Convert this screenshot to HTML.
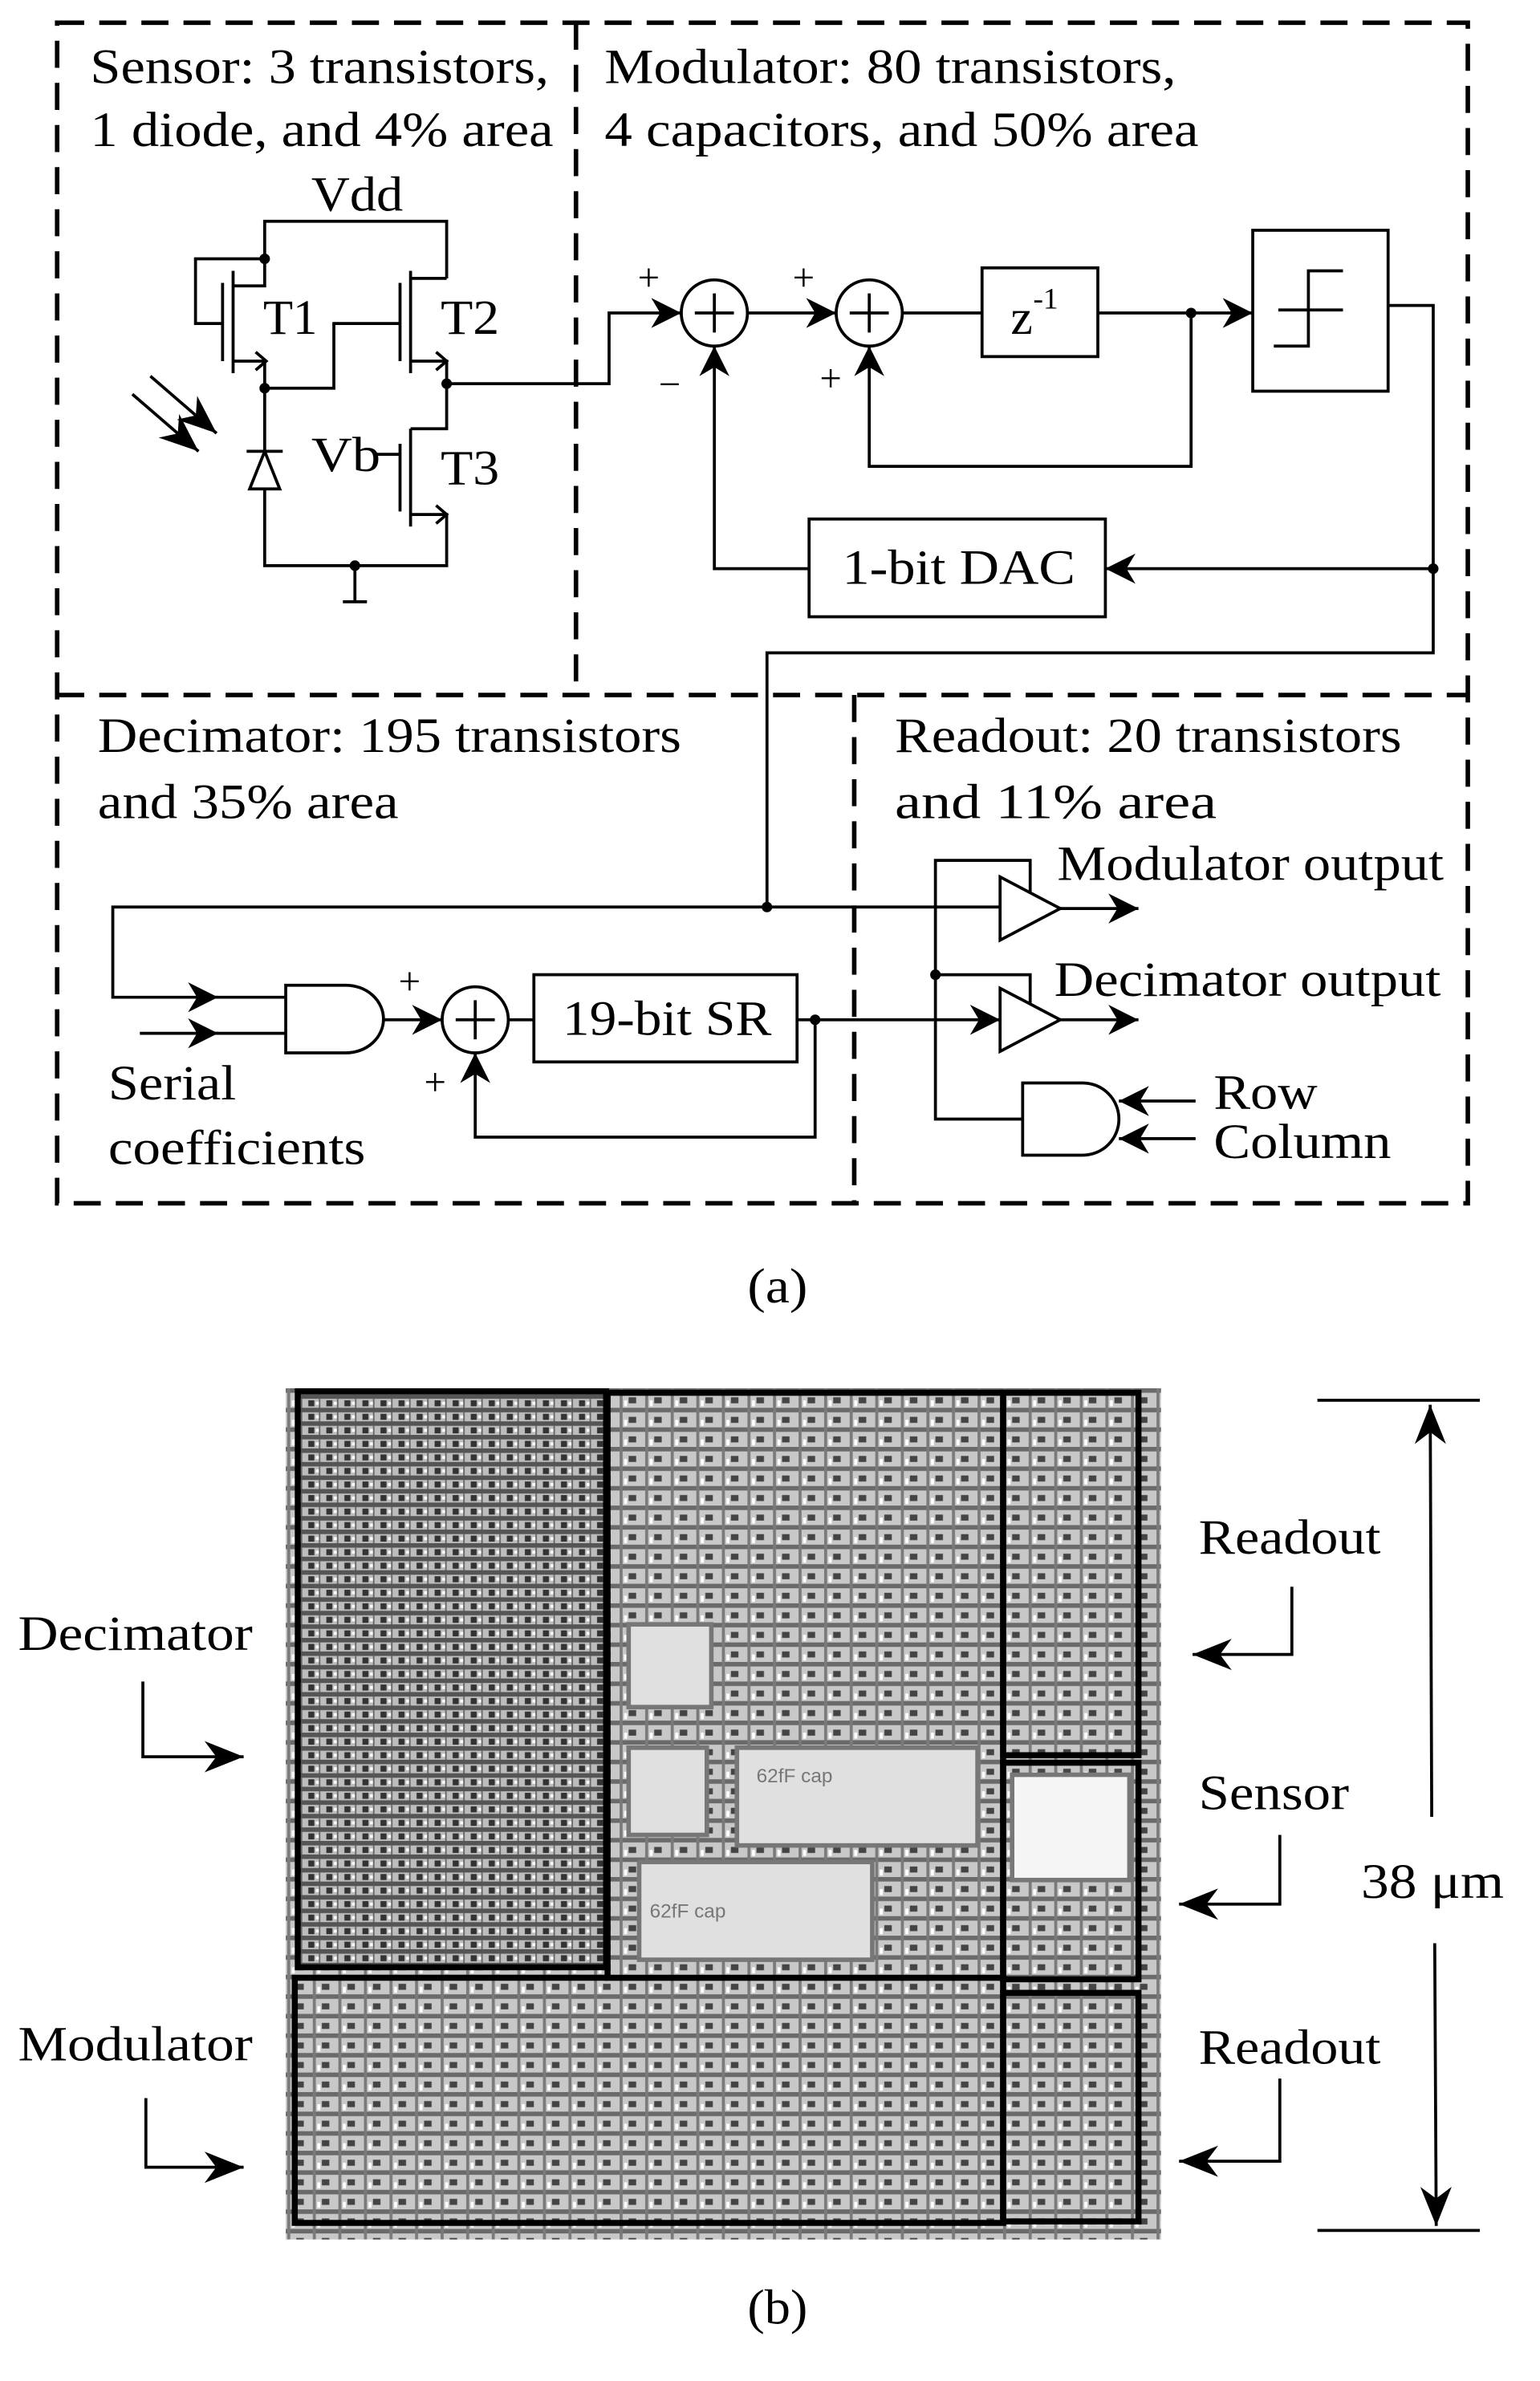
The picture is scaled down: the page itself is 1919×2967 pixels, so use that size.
<!DOCTYPE html>
<html><head><meta charset="utf-8"><style>
html,body{margin:0;padding:0;background:#fff}
svg{display:block}
text{font-family:"Liberation Serif",serif;fill:#000}
</style></head><body>
<svg width="1919" height="2967" viewBox="0 0 1024 1583" xmlns="http://www.w3.org/2000/svg">
<defs>
<marker id="ar2" viewBox="0 0 10 10" refX="10" refY="5" markerWidth="20" markerHeight="20" orient="auto" markerUnits="userSpaceOnUse">
<path d="M0,0 L10,5 L0,10 L3,5 z" fill="#000"/></marker>
<marker id="ar3" viewBox="0 0 10 10" refX="10" refY="5" markerWidth="26" markerHeight="26" orient="auto" markerUnits="userSpaceOnUse">
<path d="M0,1 L10,5 L0,9 L3,5 z" fill="#000"/></marker>
<pattern id="grid" width="12" height="9" patternUnits="userSpaceOnUse">
<rect width="12" height="9" fill="#bdbdbd"/>
<rect y="0" width="12" height="3" fill="#555"/>
<rect x="1" y="4" width="4" height="4" fill="#333"/>
<rect x="8" y="3" width="1" height="6" fill="#666"/>
<rect x="6" y="5" width="2" height="2" fill="#fff"/>
</pattern>
<pattern id="grid2" width="17" height="13" patternUnits="userSpaceOnUse">
<rect width="17" height="13" fill="#c8c8c8"/>
<rect y="0" width="17" height="3" fill="#6a6a6a"/>
<rect x="4" y="0" width="2" height="13" fill="#7a7a7a"/>
<rect x="10" y="6" width="5" height="4" fill="#444"/>
<rect x="7" y="8" width="2" height="4" fill="#fff"/>
</pattern>
</defs>

<g stroke="#000" stroke-width="3" fill="none" stroke-dasharray="18,10">
<rect x="38" y="15" width="938" height="785"/>
<line x1="383" y1="15" x2="383" y2="462"/>
<line x1="38" y1="462" x2="976" y2="462"/>
<line x1="568" y1="462" x2="568" y2="800"/>
</g>

<g font-size="33">
<text x="60" y="55" textLength="305" lengthAdjust="spacingAndGlyphs">Sensor: 3 transistors,</text>
<text x="60" y="97" textLength="308" lengthAdjust="spacingAndGlyphs">1 diode, and 4% area</text>
<text x="402" y="55" textLength="380" lengthAdjust="spacingAndGlyphs">Modulator: 80 transistors,</text>
<text x="402" y="97" textLength="395" lengthAdjust="spacingAndGlyphs">4 capacitors, and 50% area</text>
<text x="65" y="500" textLength="388" lengthAdjust="spacingAndGlyphs">Decimator: 195 transistors</text>
<text x="65" y="544" textLength="200" lengthAdjust="spacingAndGlyphs">and 35% area</text>
<text x="595" y="500" textLength="337" lengthAdjust="spacingAndGlyphs">Readout: 20 transistors</text>
<text x="595" y="544" textLength="214" lengthAdjust="spacingAndGlyphs">and 11% area</text>
<text x="703" y="585" textLength="257" lengthAdjust="spacingAndGlyphs">Modulator output</text>
<text x="701" y="662" textLength="257" lengthAdjust="spacingAndGlyphs">Decimator output</text>
<text x="807" y="737" textLength="69" lengthAdjust="spacingAndGlyphs">Row</text>
<text x="807" y="770" textLength="118" lengthAdjust="spacingAndGlyphs">Column</text>
<text x="72" y="731" textLength="85" lengthAdjust="spacingAndGlyphs">Serial</text>
<text x="72" y="774" textLength="171" lengthAdjust="spacingAndGlyphs">coefficients</text>
<text x="207" y="140" textLength="61" lengthAdjust="spacingAndGlyphs">Vdd</text>
<text x="175" y="222" textLength="36" lengthAdjust="spacingAndGlyphs">T1</text>
<text x="293" y="222" textLength="39" lengthAdjust="spacingAndGlyphs">T2</text>
<text x="207" y="313" textLength="46" lengthAdjust="spacingAndGlyphs">Vb</text>
<text x="293" y="322" textLength="39" lengthAdjust="spacingAndGlyphs">T3</text>
<text x="560" y="388" textLength="155" lengthAdjust="spacingAndGlyphs">1-bit DAC</text>
<text x="374" y="688" textLength="139" lengthAdjust="spacingAndGlyphs">19-bit SR</text>
<text x="672" y="222">z</text><text x="687" y="205" font-size="20">-1</text>
<text x="497" y="866" textLength="40" lengthAdjust="spacingAndGlyphs">(a)</text>
<text x="497" y="1545" textLength="40" lengthAdjust="spacingAndGlyphs">(b)</text>
</g>
<g font-size="26">
<text x="424" y="193">+</text><text x="527" y="193">+</text>
<text x="438" y="264">−</text><text x="545" y="260">+</text>
<text x="265" y="661">+</text><text x="282" y="728">+</text>
</g>

<g stroke="#000" stroke-width="2" fill="none">
<polyline points="176,172 176,147 297,147 297,185"/>
<polyline points="176,172 130,172 130,215 148,215"/>
<line x1="148" y1="188" x2="148" y2="240"/>
<line x1="155" y1="180" x2="155" y2="248"/>
<polyline points="155,190 176,190 176,172"/>
<polyline points="155,240 176,240 176,258"/>
<polyline points="170,234 177,240 170,246"/>
<polyline points="176,258 222,258 222,215 266,215"/>
<line x1="266" y1="188" x2="266" y2="240"/>
<line x1="273" y1="180" x2="273" y2="248"/>
<polyline points="273,185 297,185"/>
<polyline points="273,240 297,240 297,255"/>
<polyline points="290,234 297,240 290,246"/>
<polyline points="297,255 297,285 273,285"/>
<line x1="266" y1="295" x2="266" y2="340"/>
<line x1="273" y1="285" x2="273" y2="350"/>
<line x1="250" y1="302" x2="266" y2="302"/>
<polyline points="273,342 297,342 297,376 176,376 176,258"/>
<polyline points="290,336 297,342 290,348"/>
<line x1="236" y1="376" x2="236" y2="400"/>
<line x1="228" y1="400" x2="244" y2="400"/>
<polyline points="297,255 405,255 405,208 453,208" marker-end="url(#ar2)"/>
<polygon points="176,300 166,325 186,325" fill="#fff"/>
<line x1="164" y1="300" x2="188" y2="300"/>
<line x1="88" y1="262" x2="132" y2="300" marker-end="url(#ar3)"/>
<line x1="100" y1="250" x2="144" y2="288" marker-end="url(#ar3)"/>
<circle cx="475" cy="208" r="22"/>
<line x1="462" y1="208" x2="488" y2="208"/><line x1="475" y1="195" x2="475" y2="221"/>
<circle cx="578" cy="208" r="22"/>
<line x1="565" y1="208" x2="591" y2="208"/><line x1="578" y1="195" x2="578" y2="221"/>
<line x1="497" y1="208" x2="556" y2="208" marker-end="url(#ar2)"/>
<line x1="600" y1="208" x2="653" y2="208"/>
<rect x="653" y="178" width="77" height="59"/>
<line x1="730" y1="208" x2="833" y2="208" marker-end="url(#ar2)"/>
<rect x="833" y="153" width="90" height="107"/>
<polyline points="847,230 870,230 870,180 893,180"/>
<line x1="850" y1="206" x2="893" y2="206"/>
<polyline points="792,208 792,310 578,310 578,230" marker-end="url(#ar2)"/>
<polyline points="923,203 953,203 953,434 510,434 510,603"/>
<line x1="953" y1="378" x2="735" y2="378" marker-end="url(#ar2)"/>
<rect x="538" y="345" width="197" height="65"/>
<polyline points="538,378 475,378 475,230" marker-end="url(#ar2)"/>
<polyline points="665,603 75,603 75,663 145,663" marker-end="url(#ar2)"/>
<line x1="93" y1="687" x2="145" y2="687" marker-end="url(#ar2)"/>
<line x1="140" y1="663" x2="190" y2="663"/><line x1="140" y1="687" x2="190" y2="687"/>
<path d="M190,655 L230,655 A25,22.5 0 0 1 230,700 L190,700 Z"/>
<line x1="255" y1="678" x2="294" y2="678" marker-end="url(#ar2)"/>
<circle cx="316" cy="678" r="22"/>
<line x1="303" y1="678" x2="329" y2="678"/><line x1="316" y1="665" x2="316" y2="691"/>
<line x1="338" y1="678" x2="355" y2="678"/>
<rect x="355" y="648" width="175" height="58"/>
<line x1="530" y1="678" x2="665" y2="678" marker-end="url(#ar2)"/>
<polyline points="542,678 542,756 316,756 316,700" marker-end="url(#ar2)"/>
<polygon points="665,583 665,625 705,604"/>
<polygon points="665,657 665,699 705,678"/>
<line x1="705" y1="604" x2="757" y2="604" marker-end="url(#ar2)"/>
<line x1="705" y1="678" x2="757" y2="678" marker-end="url(#ar2)"/>
<polyline points="685,593 685,572 622,572 622,744 680,744"/>
<polyline points="622,648 685,648 685,667"/>
<path d="M680,720 L720,720 A24,24 0 0 1 720,768 L680,768 Z"/>
<line x1="795" y1="732" x2="744" y2="732" marker-end="url(#ar2)"/>
<line x1="795" y1="757" x2="744" y2="757" marker-end="url(#ar2)"/>
</g>
<g fill="#000">
<circle cx="176" cy="172" r="3.5"/><circle cx="176" cy="258" r="3.5"/>
<circle cx="297" cy="255" r="3.5"/><circle cx="236" cy="376" r="3.5"/>
<circle cx="792" cy="208" r="3.5"/><circle cx="953" cy="378" r="3.5"/>
<circle cx="510" cy="603" r="3.5"/><circle cx="542" cy="678" r="3.5"/>
<circle cx="622" cy="648" r="3.5"/>
</g>

<rect x="190" y="923" width="582" height="566" fill="url(#grid2)"/>
<rect x="198" y="925" width="204" height="383" fill="url(#grid)"/>
<g fill="#e0e0e0" stroke="#777" stroke-width="3">
<rect x="418" y="1080" width="55" height="55"/>
<rect x="418" y="1162" width="52" height="58"/>
<rect x="490" y="1162" width="160" height="65"/>
<rect x="425" y="1238" width="155" height="65"/>
<rect x="673" y="1180" width="78" height="70" fill="#f5f5f5"/>
</g>
<text x="503" y="1185" style="fill:#777;font-family:'Liberation Sans',sans-serif;font-size:13px">62fF cap</text>
<text x="432" y="1275" style="fill:#777;font-family:'Liberation Sans',sans-serif;font-size:13px">62fF cap</text>
<g stroke="#000" stroke-width="4" fill="none">
<rect x="198" y="925" width="205" height="383"/>
<rect x="404" y="926" width="263" height="389"/>
<polyline points="404,1315 196,1315 196,1478 667,1478 667,1315"/>
<rect x="667" y="926" width="90" height="241"/>
<rect x="667" y="1172" width="90" height="144"/>
<rect x="667" y="1325" width="90" height="152"/>
</g>

<g font-size="33">
<text x="797" y="1033" textLength="121" lengthAdjust="spacingAndGlyphs">Readout</text>
<text x="12" y="1097" textLength="156" lengthAdjust="spacingAndGlyphs">Decimator</text>
<text x="797" y="1203" textLength="100" lengthAdjust="spacingAndGlyphs">Sensor</text>
<text x="905" y="1262" textLength="95" lengthAdjust="spacingAndGlyphs">38 μm</text>
<text x="12" y="1370" textLength="156" lengthAdjust="spacingAndGlyphs">Modulator</text>
<text x="797" y="1372" textLength="121" lengthAdjust="spacingAndGlyphs">Readout</text>
</g>
<g stroke="#000" stroke-width="2" fill="none">
<polyline points="95,1118 95,1168 162,1168" marker-end="url(#ar3)"/>
<polyline points="97,1395 97,1441 162,1441" marker-end="url(#ar3)"/>
<polyline points="859,1055 859,1100 793,1100" marker-end="url(#ar3)"/>
<polyline points="851,1220 851,1266 784,1266" marker-end="url(#ar3)"/>
<polyline points="851,1382 851,1437 784,1437" marker-end="url(#ar3)"/>
<line x1="876" y1="931" x2="984" y2="931"/>
<line x1="876" y1="1483" x2="984" y2="1483"/>
<line x1="952" y1="1208" x2="951" y2="934" marker-end="url(#ar3)"/>
<line x1="954" y1="1292" x2="955" y2="1480" marker-end="url(#ar3)"/>
</g>
</svg>
</body></html>
